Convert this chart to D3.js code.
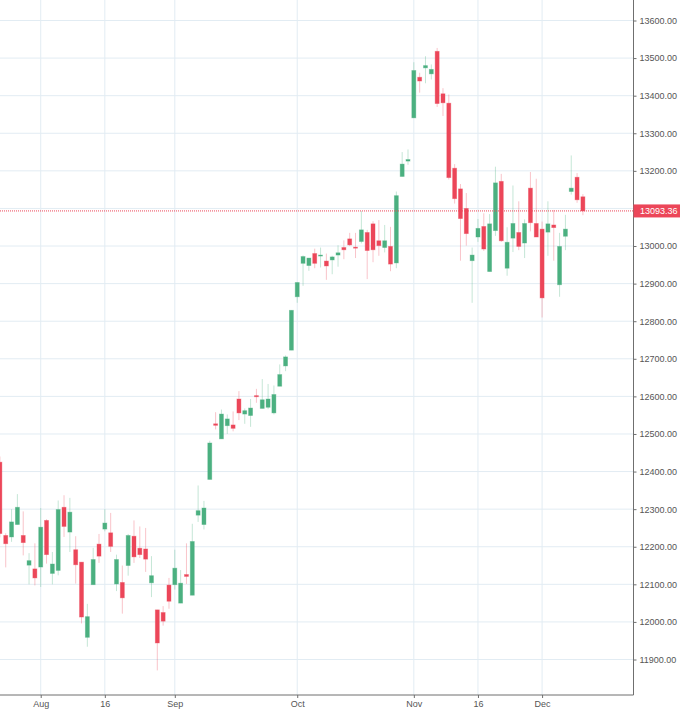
<!DOCTYPE html>
<html><head><meta charset="utf-8">
<script src="https://cdn.jsdelivr.net/npm/d3@7"></script>
<style>html,body{margin:0;padding:0;background:#fff}svg{display:block}</style>
</head><body><svg id="c" width="680" height="710"></svg>
<script>
const open=[12425,12230,12226,12259,12230,12151,12141,12146,12270,12129,12137,12305,12239,12192,12159,11959,12099,12207,12247,12237,12101,12105,12150,12228,12196,12194,12104,12032,12025,12098,12099,12050,12126,12071,12284,12259,12379,12527,12487,12522,12524,12593,12553,12549,12602,12568,12571,12556,12627,12681,12723,12865,12954,12948,12980,12974,12960,12963,12976,12996,13019,12997,13012,13036,13059,13014,12996,12999,12955,13185,13226,13341,13449,13474,13458,13518,13405,13380,13207,13152,13100,12961,13024,13052,12932,13041,13172,12941,13021,13036,13008,13154,13060,13045,13037,13056,12897,13026,13145,13183,13131];
const high=[12440,12236,12300,12340,12294,12183,12209,12303,12273,12186,12323,12337,12330,12228,12159,12048,12197,12234,12300,12290,12179,12150,12234,12270,12254,12250,12175,12032,12042,12117,12192,12138,12209,12261,12363,12322,12482,12558,12565,12552,12560,12614,12568,12593,12620,12646,12633,12629,12685,12709,12829,12903,12975,12968,12993,12996,12980,12974,13002,13015,13035,13035,13093,13043,13066,13069,13056,13051,13145,13250,13257,13489,13461,13505,13483,13527,13420,13403,13218,13165,13141,12996,13072,13087,13085,13211,13192,13050,13161,13119,13071,13197,13179,13065,13119,13096,13035,13083,13241,13194,13138];
const low=[12225,12145,12213,12259,12177,12100,12097,12093,12155,12100,12124,12226,12186,12102,11996,11934,12099,12157,12241,12186,12082,12022,12123,12157,12170,12133,12066,11871,11990,12035,12086,12050,12101,12071,12266,12246,12379,12512,12487,12500,12507,12537,12527,12519,12583,12568,12566,12552,12627,12667,12723,12849,12894,12934,12941,12943,12910,12925,12945,12965,13000,12968,13007,12912,12957,12974,12983,12933,12941,13185,13216,13341,13408,13433,13443,13370,13346,13177,13113,12961,13001,12849,13011,12987,12932,13027,13011,12921,12984,12989,12968,13039,13024,12810,12974,12961,12865,12989,13137,13115,13082];
const close=[12235,12208,12266,12305,12211,12163,12117,12252,12179,12154,12299,12254,12292,12152,12013,12014,12166,12175,12263,12201,12166,12064,12230,12173,12179,12167,12123,11944,12002,12055,12143,12103,12121,12214,12296,12303,12476,12523,12553,12540,12515,12556,12562,12569,12599,12591,12593,12605,12658,12705,12829,12903,12972,12968,12954,12976,12947,12971,12982,12990,13003,12995,13043,12988,12990,13001,13014,12952,13134,13218,13230,13467,13439,13480,13470,13379,13381,13182,13126,13073,13033,12976,13047,12992,13059,13168,13014,13010,13060,12999,13060,13062,13024,12862,13059,13049,12999,13045,13154,13123,13093.36];
const priceTicks=[11900,12000,12100,12200,12300,12400,12500,12600,12700,12800,12900,13000,13100,13200,13300,13400,13500,13600];
const dateTickIndex=[7,18,30,51,71,82,93];
const dateTickLabels=["Aug","16","Sep","Oct","Nov","16","Dec"];
const lastPrice=13093.36;

const UP="#4bb080",DOWN="#ec4659",GRID="#e2ecf3",AXIS="#6f6f6f",TEXT="#555555";
const W=633.5,H=695;
const x=d3.scaleLinear().domain([0,100]).range([-0.1,582.9]);
const y=d3.scaleLinear().domain([11900,13600]).range([659.5,20.5]);
const svg=d3.select("#c");
svg.append("defs").append("clipPath").attr("id","plot").append("rect").attr("width",W).attr("height",H);

const grid=svg.append("g");
grid.selectAll(".h").data(priceTicks).join("line").attr("x1",0).attr("x2",W)
  .attr("y1",d=>y(d)).attr("y2",d=>y(d)).attr("stroke",GRID);
grid.selectAll(".v").data(dateTickIndex).join("line").attr("y1",0).attr("y2",H)
  .attr("x1",d=>x(d)).attr("x2",d=>x(d)).attr("stroke",GRID);

const idx=d3.range(open.length);
const col=i=>close[i]>=open[i]?UP:DOWN;
const plot=svg.append("g").attr("clip-path","url(#plot)");
plot.selectAll(".w").data(idx).join("line").attr("x1",x).attr("x2",x)
  .attr("y1",i=>y(high[i])).attr("y2",i=>y(low[i]))
  .attr("stroke",col).attr("stroke-width",1).attr("stroke-opacity",.32);
plot.selectAll(".b").data(idx).join("rect")
  .attr("x",i=>x(i)-2).attr("width",4)
  .attr("y",i=>y(Math.max(open[i],close[i])))
  .attr("height",i=>Math.max(1,Math.abs(y(open[i])-y(close[i]))))
  .attr("fill",col).attr("stroke",col).attr("stroke-opacity",.45).attr("stroke-width",.8);
plot.append("line").attr("x1",0).attr("x2",W).attr("y1",y(lastPrice)).attr("y2",y(lastPrice))
  .attr("stroke",DOWN).attr("stroke-width",1).attr("stroke-dasharray","1 1");

const fontFamily="'Liberation Sans',Arial,sans-serif";
const coveredTick=13100;
const ay=svg.append("g").attr("transform",`translate(${W},0)`)
  .call(d3.axisRight(y).tickValues(priceTicks).tickSize(3).tickPadding(3)
    .tickFormat(d=>d===coveredTick?"":d3.format(".2f")(d)));
const ax=svg.append("g").attr("transform",`translate(0,${H})`)
  .call(d3.axisBottom(x).tickValues(dateTickIndex).tickSize(3).tickPadding(3)
    .tickFormat(d=>dateTickLabels[dateTickIndex.indexOf(d)]));
ax.select(".domain").remove();
svg.append("line").attr("x1",0).attr("x2",W).attr("y1",H).attr("y2",H).attr("stroke",AXIS);
ay.select(".domain").remove();
svg.append("line").attr("x1",W).attr("x2",W).attr("y1",0).attr("y2",H).attr("stroke",AXIS);
[ax,ay].forEach(a=>{a.selectAll("line").attr("stroke",AXIS);
  a.selectAll("text").attr("fill",TEXT).style("font-family",fontFamily).style("font-size","9px");});

svg.append("rect").attr("x",W).attr("y",y(lastPrice)-6.5).attr("width",680-W).attr("height",13).attr("fill",DOWN);
svg.append("text").attr("x",640).attr("y",y(lastPrice)).attr("dy","0.35em").attr("fill","#fff")
  .style("font-family",fontFamily).style("font-size","9px").text(d3.format(".2f")(lastPrice));
</script></body></html>
